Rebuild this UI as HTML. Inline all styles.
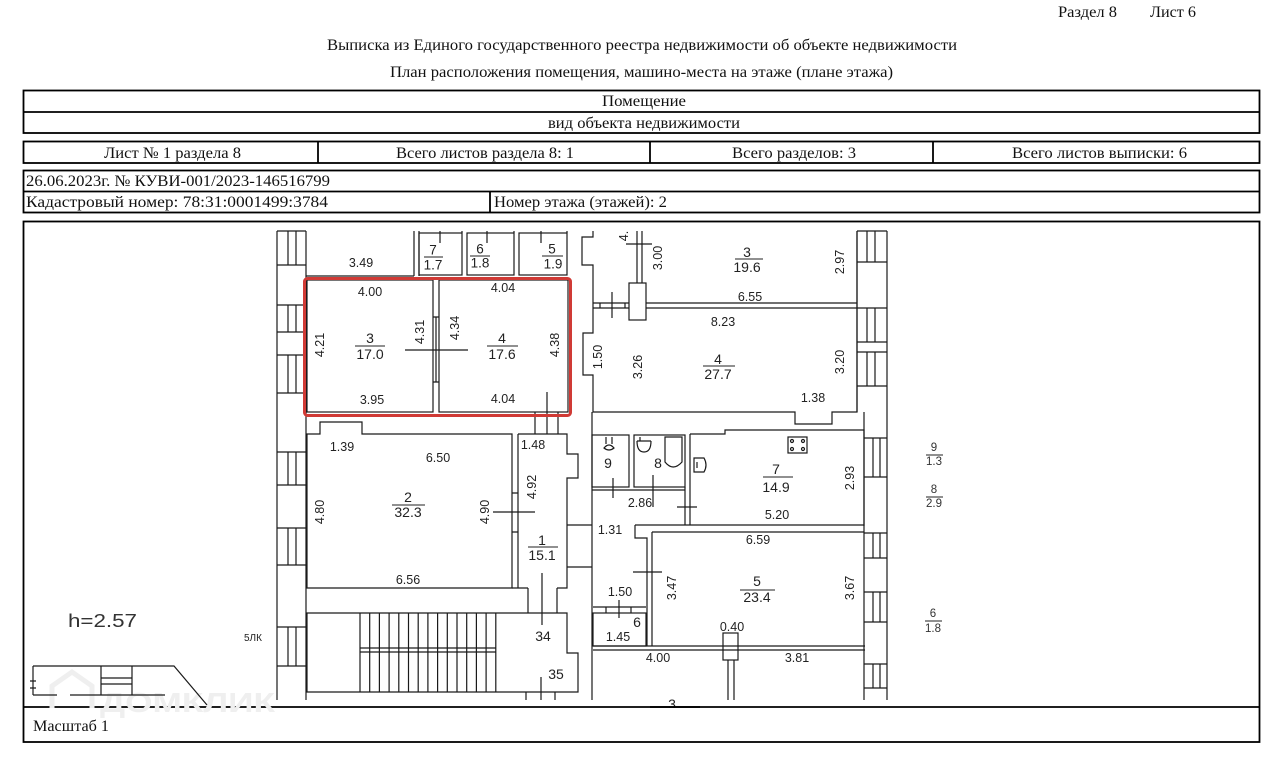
<!DOCTYPE html>
<html><head><meta charset="utf-8">
<style>
html,body{margin:0;padding:0;background:#fff;}
svg{display:block;}
.hd{font-family:"Liberation Serif","Noto Serif CJK SC",serif;font-size:16px;fill:#111;}
.d{font-family:"Liberation Sans","DejaVu Sans",sans-serif;font-size:12.5px;fill:#222;text-anchor:middle;dominant-baseline:central;}
.r{font-family:"Liberation Sans","DejaVu Sans",sans-serif;font-size:14px;fill:#222;text-anchor:middle;dominant-baseline:central;}
.m{font-family:"Liberation Sans","DejaVu Sans",sans-serif;font-size:13.5px;fill:#222;text-anchor:middle;dominant-baseline:central;}
.s{font-family:"Liberation Sans","DejaVu Sans",sans-serif;font-size:11.5px;fill:#333;text-anchor:middle;dominant-baseline:central;}
</style></head>
<body>
<svg width="1275" height="757" viewBox="0 0 1275 757" xmlns="http://www.w3.org/2000/svg">
<rect width="1275" height="757" fill="#fff"/>

<!-- header -->
<text class="hd" x="1058" y="17" textLength="59" lengthAdjust="spacingAndGlyphs">Раздел 8</text>
<text class="hd" x="1150" y="17" textLength="46" lengthAdjust="spacingAndGlyphs">Лист 6</text>
<text class="hd" x="642" y="50" text-anchor="middle" textLength="630" lengthAdjust="spacingAndGlyphs">Выписка из Единого государственного реестра недвижимости об объекте недвижимости</text>
<text class="hd" x="641.5" y="77" text-anchor="middle" textLength="503" lengthAdjust="spacingAndGlyphs">План расположения помещения, машино-места на этаже (плане этажа)</text>

<!-- tables -->
<g fill="none" stroke="#000" stroke-width="1.8">
<rect x="23.5" y="90.5" width="1236" height="42.5"/>
<line x1="23.5" y1="112" x2="1259.5" y2="112"/>
<rect x="23.5" y="141.5" width="1236" height="21.5"/>
<line x1="318" y1="141.5" x2="318" y2="163"/>
<line x1="650" y1="141.5" x2="650" y2="163"/>
<line x1="933" y1="141.5" x2="933" y2="163"/>
<rect x="23.5" y="170.5" width="1236" height="42"/>
<line x1="23.5" y1="191.5" x2="1259.5" y2="191.5"/>
<line x1="490" y1="191.5" x2="490" y2="212.5"/>
<rect x="23.5" y="221.5" width="1236" height="520.5"/>
<line x1="23.5" y1="707" x2="1259.5" y2="707"/>
</g>
<text class="hd" x="644" y="106" text-anchor="middle" textLength="84" lengthAdjust="spacingAndGlyphs">Помещение</text>
<text class="hd" x="644" y="128" text-anchor="middle" textLength="192" lengthAdjust="spacingAndGlyphs">вид объекта недвижимости</text>
<text class="hd" x="104" y="158" textLength="137" lengthAdjust="spacingAndGlyphs">Лист № 1 раздела 8</text>
<text class="hd" x="396" y="158" textLength="178" lengthAdjust="spacingAndGlyphs">Всего листов раздела 8: 1</text>
<text class="hd" x="732" y="158" textLength="124" lengthAdjust="spacingAndGlyphs">Всего разделов: 3</text>
<text class="hd" x="1012" y="158" textLength="175" lengthAdjust="spacingAndGlyphs">Всего листов выписки: 6</text>
<text class="hd" x="26" y="186" textLength="304" lengthAdjust="spacingAndGlyphs">26.06.2023г. № КУВИ-001/2023-146516799</text>
<text class="hd" x="26" y="207" textLength="302" lengthAdjust="spacingAndGlyphs">Кадастровый номер: 78:31:0001499:3784</text>
<text class="hd" x="494" y="207" textLength="173" lengthAdjust="spacingAndGlyphs">Номер этажа (этажей): 2</text>
<text class="hd" x="33" y="731" textLength="76" lengthAdjust="spacingAndGlyphs">Масштаб 1</text>

<!-- watermark -->
<g fill="none" stroke="#efefef" stroke-width="5">
<path d="M52,708 V686 L72,672 L92,686 V708"/>
</g>
<text x="100" y="712" font-family="'Liberation Sans',sans-serif" font-weight="bold" font-size="28" fill="#efefef" textLength="175" lengthAdjust="spacingAndGlyphs">ДОМКЛИК</text>

<!-- floor plan -->
<g fill="none" stroke="#1a1a1a" stroke-width="1.2">
<path d="M277,231V700 M306,231V700"/>
<path d="M277,231H306M277,265H306M288,231V265M296,231V265
M277,305H306M277,332H306M288,305V332M296,305V332
M277,355H306M277,393H306M288,355V393M296,355V393
M277,452H306M277,485H306M288,452V485M296,452V485
M277,528H306M277,565H306M288,528V565M296,528V565
M277,627H306M277,666H306M288,627V666M296,627V666"/>

<path d="M306,276H414 M414,231V276 M419,231V276"/>
<rect x="419" y="233" width="43" height="42"/>
<rect x="467" y="233" width="47" height="42"/>
<rect x="519" y="233" width="48" height="42"/>
<path d="M440,231V243 M487,231V243 M541,231V243 M462,231V233 M514,231V233 M567,231V233"/>

<rect x="307" y="280" width="126" height="132"/>
<rect x="439" y="280" width="129" height="132"/>
<path d="M433,317H439 M433,382H439 M436,317V382"/>
<path d="M405,350H468"/>
<path d="M547,392V434 M535,412V434 M558,412V434"/>

<path d="M307,434H320V422H362V434H512V588H307Z"/>
<path d="M518,434V588 M512,493H518 M512,532H518 M493,512H535"/>
<path d="M518,434H567V454H578V478H567V588H557 M528,588H512"/>
<path d="M528,588V613 M557,588V613 M542,573V625"/>
<path d="M567,525H592 M567,567H592"/>

<path d="M307,613H567V653H578V692H307Z"/>
<path d="M360,613V692M369.7,613V692M379.4,613V692M389.1,613V692M398.8,613V692M408.5,613V692M418.2,613V692M427.9,613V692M437.6,613V692M447.3,613V692M457,613V692M466.7,613V692M476.4,613V692M486.1,613V692M495.8,613V692"/>
<path d="M360,648H496 M360,652H496"/>
<path d="M526,692V700 M555,692V700 M541,677V700"/>

<path d="M593,231V237H582V265H593V333H583V375H593V412H795V424H832V412H857V231"/>
<path d="M593,303H629 M593,308H629 M646,303H857 M646,308H857"/>
<rect x="629" y="283" width="17" height="37"/>
<path d="M637,231V283 M642,231V283 M600,303V308 M625,303V308 M612,292V318 M626,244H652"/>

<path d="M592,412V700"/>
<rect x="592" y="435" width="37" height="52"/>
<rect x="634" y="435" width="51" height="52"/>
<path d="M592,490H685 M685,487V525 M690,434V525 M677,507H697 M613,478V498 M653,475V507"/>
<path d="M690,434H725V430H864V526 M635,525H864 M652,532H864"/>
<path d="M635,525V538H647V646 M652,532V646 M633,572H662"/>
<path d="M593,646H865 M593,650H865"/>
<rect x="593" y="613" width="53" height="33"/>
<path d="M593,607H646 M606,607V613 M631,607V613 M619,600V618"/>
<rect x="723" y="633" width="15" height="27"/>
<path d="M728,660V700 M734,660V700"/>
<rect x="788" y="437" width="19" height="16"/>
<circle cx="792" cy="441" r="1.5"/><circle cx="803" cy="441" r="1.5"/>
<circle cx="792" cy="449" r="1.5"/><circle cx="803" cy="449" r="1.5"/>
<path d="M606,437V444 M612,437V444 M604,448Q609,442 614,448Q609,452 604,448Z"/>
<path d="M640,437V441 M637,441H651 M637,441Q637,452 644,452Q651,452 651,441"/>
<path d="M665,437H682V462Q673,472 665,462Z"/>
<path d="M694,458H704Q708,465 704,472H694Z M697,462V468"/>

<path d="M857,231V412 M864,412V700 M887,231V700"/>
<path d="M857,231H887M857,262H887M867,231V262M875,231V262
M857,308H887M857,342H887M867,308V342M875,308V342
M857,352H887M857,386H887M867,352V386M875,352V386
M864,438H887M864,477H887M873,438V477M880,438V477
M864,533H887M864,558H887M873,533V558M880,533V558
M864,592H887M864,622H887M873,592V622M880,592V622
M864,664H887M864,688H887M873,664V688M880,664V688"/>

<path d="M33,666H174L207,705 M33,666V695 M101,666V695 M132,666V695 M101,678H132 M101,684H132 M33,695H57 M70,695H165 M30,681H36 M30,688H36"/>
</g>

<rect x="304.5" y="278.5" width="266" height="137" rx="3" ry="3" fill="none" stroke="#d03a35" stroke-width="3"/>

<g stroke="#222" stroke-width="1">
<path d="M355,346H385 M487,346H518 M424,257H443 M470,256H490 M542,256H563 M735,259H763 M703,366H735 M392,505H425 M528,547H558 M763,477H793 M740,590H775 M926,455H943 M926,497H943 M925,621H942"/>
</g>

<text class="d" x="361" y="263">3.49</text>
<text class="m" x="433" y="250">7</text><text class="m" x="433" y="265">1.7</text>
<text class="m" x="480" y="249">6</text><text class="m" x="480" y="263">1.8</text>
<text class="m" x="552" y="249">5</text><text class="m" x="553" y="264">1.9</text>

<text class="d" x="370" y="292">4.00</text>
<text class="d" x="503" y="288">4.04</text>
<text class="d" x="372" y="400">3.95</text>
<text class="d" x="503" y="399">4.04</text>
<text class="d" transform="translate(320,345) rotate(-90)">4.21</text>
<text class="d" transform="translate(420,332) rotate(-90)">4.31</text>
<text class="d" transform="translate(455,328) rotate(-90)">4.34</text>
<text class="d" transform="translate(555,345) rotate(-90)">4.38</text>
<text class="r" x="370" y="338">3</text><text class="r" x="370" y="354">17.0</text>
<text class="r" x="502" y="338">4</text><text class="r" x="502" y="354">17.6</text>

<text class="d" transform="translate(624,236) rotate(-90)">4.</text>
<text class="d" transform="translate(658,258) rotate(-90)">3.00</text>
<text class="d" transform="translate(840,262) rotate(-90)">2.97</text>
<text class="r" x="747" y="252">3</text><text class="r" x="747" y="267">19.6</text>
<text class="d" x="750" y="297">6.55</text>
<text class="d" x="723" y="322">8.23</text>
<text class="d" transform="translate(598,357) rotate(-90)">1.50</text>
<text class="d" transform="translate(638,367) rotate(-90)">3.26</text>
<text class="r" x="718" y="359">4</text><text class="r" x="718" y="374">27.7</text>
<text class="d" transform="translate(840,362) rotate(-90)">3.20</text>
<text class="d" x="813" y="398">1.38</text>

<text class="d" x="342" y="447">1.39</text>
<text class="d" x="438" y="458">6.50</text>
<text class="d" x="533" y="445">1.48</text>
<text class="d" transform="translate(532,487) rotate(-90)">4.92</text>
<text class="d" transform="translate(320,512) rotate(-90)">4.80</text>
<text class="r" x="408" y="497">2</text><text class="r" x="408" y="512">32.3</text>
<text class="d" transform="translate(485,512) rotate(-90)">4.90</text>
<text class="r" x="542" y="540">1</text><text class="r" x="542" y="555">15.1</text>
<text class="d" x="408" y="580">6.56</text>

<text class="r" x="608" y="463">9</text>
<text class="r" x="658" y="463">8</text>
<text class="r" x="776" y="469">7</text><text class="r" x="776" y="487">14.9</text>
<text class="d" transform="translate(850,478) rotate(-90)">2.93</text>
<text class="d" x="640" y="503">2.86</text>
<text class="d" x="777" y="515">5.20</text>
<text class="d" x="610" y="530">1.31</text>
<text class="d" x="758" y="540">6.59</text>
<text class="d" transform="translate(672,588) rotate(-90)">3.47</text>
<text class="r" x="757" y="581">5</text><text class="r" x="757" y="597">23.4</text>
<text class="d" transform="translate(850,588) rotate(-90)">3.67</text>
<text class="d" x="620" y="592">1.50</text>
<text class="r" x="637" y="622">6</text>
<text class="d" x="618" y="637">1.45</text>
<text class="d" x="732" y="627">0.40</text>
<text class="d" x="658" y="658">4.00</text>
<text class="d" x="797" y="658">3.81</text>
<text class="r" x="672" y="704">3</text>
<rect x="660" y="708" width="30" height="10" fill="#fff"/>
<line x1="650" y1="707" x2="700" y2="707" stroke="#000" stroke-width="1.8"/>

<text class="r" x="543" y="636">34</text>
<text class="r" x="556" y="674">35</text>
<text x="244" y="641" font-family="'Liberation Sans',sans-serif" font-size="10" fill="#222">5ЛК</text>

<text class="s" x="934" y="448">9</text><text class="s" x="934" y="462">1.3</text>
<text class="s" x="934" y="490">8</text><text class="s" x="934" y="504">2.9</text>
<text class="s" x="933" y="614">6</text><text class="s" x="933" y="629">1.8</text>

<text x="68" y="627" font-family="'Liberation Sans',sans-serif" font-size="18" fill="#333" textLength="69" lengthAdjust="spacingAndGlyphs">h=2.57</text>
</svg>
</body></html>
